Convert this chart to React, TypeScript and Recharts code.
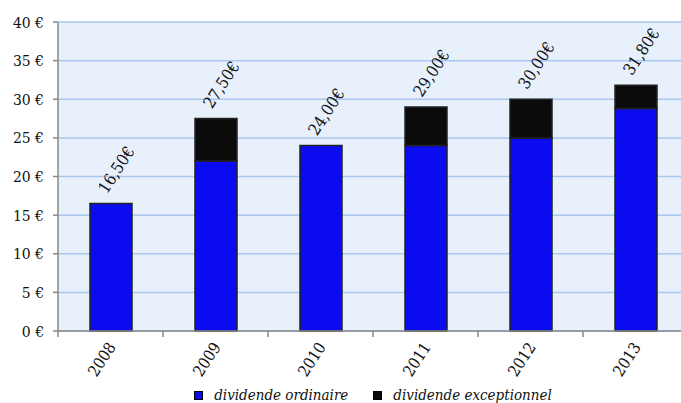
import { BarChart, Bar, XAxis, YAxis, CartesianGrid, Legend, LabelList } from "recharts";

const years = ["2008", "2009", "2010", "2011", "2012", "2013"];
const ordinaire = [16.5, 22, 24, 24, 25, 28.8];
const exceptionnel = [0, 5.5, 0, 5, 5, 3];
const totals = ["16,50€", "27,50€", "24,00€", "29,00€", "30,00€", "31,80€"];
const yTicks = [0, 5, 10, 15, 20, 25, 30, 35, 40];

const data = years.map((year, i) => ({
  year,
  ordinaire: ordinaire[i],
  exceptionnel: exceptionnel[i],
}));

const FONT = "'DejaVu Serif', serif";
const TXT = { fontFamily: FONT, fontStretch: "condensed" as const };
const BLUE = "#0b0bf2";
const BLACK = "#0b0b0b";

// rotated year labels + tick marks at category boundaries
const YearTick = (props: any) => {
  const { x, y, payload } = props;
  const half = 52.5;
  return (
    <g>
      <line x1={x - half} y1={y - 8} x2={x - half} y2={y - 2} stroke="#888" strokeWidth={1.5} />
      <text
        x={x + 6}
        y={y + 8}
        textAnchor="end"
        transform={`rotate(-57, ${x + 6}, ${y + 8})`}
        style={TXT}
        fontSize={16}
        fill="#111"
      >
        {payload.value}
      </text>
    </g>
  );
};

// label above the whole stack; top of stack found from the ordinary bar's own scale
const TotalLabel = (props: any) => {
  const { x, y, width, height, index } = props;
  const top = y - (height * exceptionnel[index]) / ordinaire[index];
  const cx = x + width / 2 - 4;
  const cy = top - 9;
  return (
    <text
      x={cx}
      y={cy}
      textAnchor="start"
      transform={`rotate(-57, ${cx}, ${cy})`}
      style={TXT}
      fontSize={16.5}
      fill="#111"
    >
      {totals[index]}
    </text>
  );
};

const CustomLegend = () => (
  <div
    style={{
      display: "flex",
      justifyContent: "center",
      gap: 25,
      ...TXT,
      fontStyle: "italic",
      fontSize: 15,
      lineHeight: "16px",
      color: "#111",
      paddingLeft: 58,
      position: "relative",
      top: 4,
    }}
  >
    {[
      { label: "dividende ordinaire", color: BLUE },
      { label: "dividende exceptionnel", color: BLACK },
    ].map((item) => (
      <span key={item.label} style={{ display: "flex", alignItems: "center" }}>
        <span
          style={{
            display: "inline-block",
            width: 7,
            height: 7,
            background: item.color,
            border: "1px solid #000",
            marginRight: 11,
          }}
        />
        {item.label}
      </span>
    ))}
  </div>
);

export default function App() {
  return (
    <div style={{ position: "absolute", top: 0, left: 0, width: 681, height: 403, overflow: "hidden", background: "#fff", fontFamily: FONT }}>
      <BarChart
        width={690}
        height={403}
        data={data}
        margin={{ top: 22, right: 2, left: 0, bottom: 2 }}
        barCategoryGap="20%"
      >
        <CartesianGrid vertical={false} fill="#e8f0fc" stroke="#a9c8ee" strokeWidth={1.5} />
        <XAxis
          dataKey="year"
          tick={<YearTick />}
          tickLine={false}
          axisLine={{ stroke: "#888", strokeWidth: 1.5 }}
          height={52}
          interval={0}
        />
        <YAxis
          width={58}
          domain={[0, 40]}
          ticks={yTicks}
          tickFormatter={(v: number) => `${v} €`}
          axisLine={{ stroke: "#888", strokeWidth: 1.5 }}
          tickLine={{ stroke: "#888", strokeWidth: 1.5 }}
          tickSize={5}
          tickMargin={9}
          tick={{ fontSize: 15.5, fill: "#111", style: TXT }}
        />
        <Legend verticalAlign="bottom" height={18} content={<CustomLegend />} />
        <Bar dataKey="ordinaire" stackId="a" fill={BLUE} stroke="#222" strokeWidth={1.5} barSize={42} isAnimationActive={false}>
          <LabelList dataKey="ordinaire" content={<TotalLabel />} />
        </Bar>
        <Bar dataKey="exceptionnel" stackId="a" fill={BLACK} stroke="#222" strokeWidth={1.5} barSize={42} isAnimationActive={false} />
      </BarChart>
    </div>
  );
}
